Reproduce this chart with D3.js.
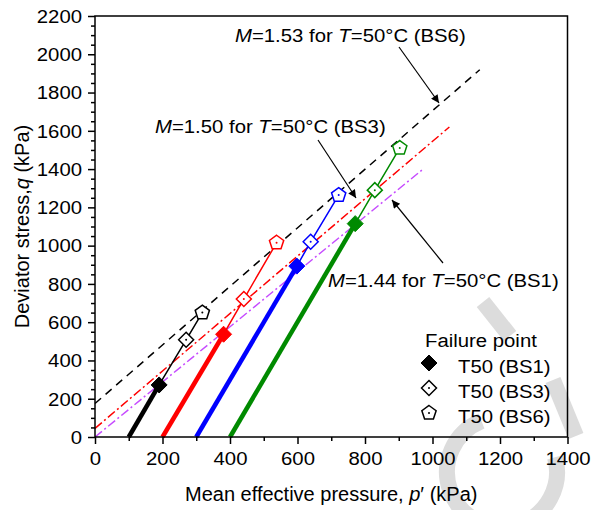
<!DOCTYPE html>
<html>
<head>
<meta charset="utf-8">
<script src="https://cdn.jsdelivr.net/npm/d3@7"></script>
<style>
  html, body { margin: 0; padding: 0; background: #fff; }
  svg { display: block; font-family: "Liberation Sans", Arial, sans-serif; }
</style>
</head>
<body>
<svg id="chart" width="596" height="510"></svg>
<script>
// Stress paths of four specimens (T = 50 °C), start of shearing p'0 (kPa)
const specimenColors = ["#000000", "#ff0000", "#0000ff", "#008a00"];
const startP = [100, 200, 300, 400];
// Failure points [p', q] for each criterion
const failBS1 = [[190, 272], [381, 537], [598, 893], [771, 1115]];
const failBS3 = [[270, 508], [441, 721], [639, 1020], [829, 1290]];
const failBS6 = [[318, 650], [538, 1015], [722, 1264], [903, 1510]];

// Critical state lines q = M p' + c
const critM = [1.53, 1.50, 1.44];
const critC = [175, 45, 0];
const critEndP = [1140, 1050, 970];
const critLabels = ["BS6", "BS3", "BS1"];

const xTicks = d3.range(0, 1401, 200);
const yTicks = d3.range(0, 2201, 200);
const legendLabels = ["T50 (BS1)", "T50 (BS3)", "T50 (BS6)"];

const svg = d3.select("#chart");
const SX = 1.13; // glyph widening used for small labels

const x = d3.scaleLinear().domain([0, 1400]).range([95, 567.5]);
const y = d3.scaleLinear().domain([0, 2200]).range([437, 16]);

// --- background mark (light grey strokes) ---
const wm = svg.append("g").attr("fill", "none").attr("stroke", "#dcdcdc").attr("stroke-width", 16)
  .attr("stroke-linecap", "butt");
wm.append("path").attr("d", d3.arc()({innerRadius: 55, outerRadius: 55, startAngle: 1.3, endAngle: 5.9}))
  .attr("transform", "translate(502,472)");
wm.append("line").attr("x1", 483).attr("y1", 302).attr("x2", 510).attr("y2", 336);
wm.append("line").attr("x1", 553).attr("y1", 380).attr("x2", 576).attr("y2", 436);

// --- critical state lines ---
const critStyles = [
  {color: "#000000", dash: "8,6"},
  {color: "#ff0000", dash: "9,3,2,3"},
  {color: "#c64bff", dash: "9,3,2,3"}
];
critM.forEach((m, i) => {
  svg.append("line")
    .attr("x1", x(0)).attr("y1", y(critC[i]))
    .attr("x2", x(critEndP[i])).attr("y2", y(m * critEndP[i] + critC[i]))
    .attr("stroke", critStyles[i].color)
    .attr("stroke-width", 1.5)
    .attr("stroke-dasharray", critStyles[i].dash);
});

// --- stress paths ---
const line = d3.line().x(d => x(d[0])).y(d => y(d[1]));
startP.forEach((p0, i) => {
  svg.append("path").attr("d", line([[p0, 0], failBS1[i]]))
    .attr("fill", "none").attr("stroke", specimenColors[i]).attr("stroke-width", 4.5);
  svg.append("path").attr("d", line([failBS1[i], failBS3[i], failBS6[i]]))
    .attr("fill", "none").attr("stroke", specimenColors[i]).attr("stroke-width", 1.5);
});

// --- markers ---
const diamondPath = r => `M0,${-r}L${r},0L0,${r}L${-r},0Z`;
function pentPath(r) {
  const pts = d3.range(5).map(k => {
    const a = -Math.PI / 2 + k * 2 * Math.PI / 5;
    return [r * Math.cos(a), r * Math.sin(a)];
  });
  return "M" + pts.map(p => p.join(",")).join("L") + "Z";
}
function drawMarker(g, kind, color) {
  if (kind === 0) {
    g.append("path").attr("d", diamondPath(8)).attr("fill", color).attr("stroke", color).attr("stroke-width", 1);
  } else {
    g.append("path").attr("d", kind === 1 ? diamondPath(7.5) : pentPath(7.5))
      .attr("fill", "#fff").attr("stroke", color).attr("stroke-width", 1.5);
    g.append("circle").attr("r", 1).attr("fill", color);
  }
}
[failBS1, failBS3, failBS6].forEach((set, k) => {
  set.forEach((d, i) => {
    const g = svg.append("g").attr("transform", `translate(${x(d[0])},${y(d[1])})`);
    drawMarker(g, k, specimenColors[i]);
  });
});

// --- axes ---
const fmt = d3.format("d");
function styleAxis(g) {
  g.select(".domain").remove();
  g.selectAll(".tick line").attr("stroke", "#000").attr("stroke-width", 1.5);
  g.selectAll(".tick text").attr("fill", "#000").attr("font-size", 18);
}
const gx = svg.append("g").attr("transform", `translate(0,${y(0)})`)
  .call(d3.axisBottom(x).tickValues(xTicks).tickFormat(fmt).tickSize(7));
styleAxis(gx);
gx.selectAll(".tick text").attr("y", 0).attr("dy", "0").attr("transform", `translate(0,28) scale(${SX},1)`);
const gxm = svg.append("g").attr("transform", `translate(0,${y(0)})`)
  .call(d3.axisBottom(x).tickValues(d3.range(100, 1400, 200)).tickSize(4).tickFormat(""));
styleAxis(gxm);

const gy = svg.append("g").attr("transform", `translate(${x(0)},0)`)
  .call(d3.axisLeft(y).tickValues(yTicks).tickFormat(fmt).tickSize(7));
styleAxis(gy);
gy.selectAll(".tick text").attr("x", -13 / SX).attr("dy", "0.35em").attr("transform", `scale(${SX},1)`);
const gym = svg.append("g").attr("transform", `translate(${x(0)},0)`)
  .call(d3.axisLeft(y).tickValues(d3.range(0, 2201, 50).filter(v => v % 200 !== 0)).tickSize(4).tickFormat(""));
styleAxis(gym);

// frame
svg.append("rect")
  .attr("x", x(0)).attr("y", y(2200))
  .attr("width", x(1400) - x(0)).attr("height", y(0) - y(2200))
  .attr("fill", "none").attr("stroke", "#000").attr("stroke-width", 1.5);

// axis titles
const xt = svg.append("text").attr("x", (x(0) + x(1400)) / 2).attr("y", 501)
  .attr("text-anchor", "middle").attr("font-size", 20);
xt.append("tspan").text("Mean effective pressure, ");
xt.append("tspan").attr("font-style", "italic").text("p");
xt.append("tspan").text("\u2032 (kPa)");

const yt = svg.append("text").attr("transform", `translate(28.5,${(y(0) + y(2200)) / 2}) rotate(-90)`)
  .attr("text-anchor", "middle").attr("font-size", 20);
yt.append("tspan").text("Deviator stress,");
yt.append("tspan").attr("font-style", "italic").text("q");
yt.append("tspan").text(" (kPa)");

// --- annotations ---
const defs = svg.append("defs");
defs.append("marker").attr("id", "arrowHead")
  .attr("viewBox", "0 0 10 10").attr("refX", 10).attr("refY", 5)
  .attr("markerWidth", 10).attr("markerHeight", 8).attr("markerUnits", "userSpaceOnUse")
  .attr("orient", "auto")
  .append("path").attr("d", "M0,0L10,5L0,10Z").attr("fill", "#000");

function label(tx, ty, m, tag) {
  const t = svg.append("text").attr("transform", `translate(${tx},${ty}) scale(${SX},1)`)
    .attr("font-size", 18).attr("fill", "#000");
  t.append("tspan").attr("font-style", "italic").text("M");
  t.append("tspan").text("=" + m.toFixed(2) + " for ");
  t.append("tspan").attr("font-style", "italic").text("T");
  t.append("tspan").text("=50\u00b0C (" + tag + ")");
}
function arrow(x1, y1, x2, y2) {
  svg.append("line").attr("x1", x1).attr("y1", y1).attr("x2", x2).attr("y2", y2)
    .attr("stroke", "#000").attr("stroke-width", 1.2).attr("marker-end", "url(#arrowHead)");
}
label(235, 42, critM[0], critLabels[0]);
arrow(399, 47, 439, 103);
label(155, 133, critM[1], critLabels[1]);
arrow(318, 140, 356, 198);
label(328, 287, critM[2], critLabels[2]);
arrow(443, 263, 392, 200);

// --- legend ---
svg.append("text").attr("transform", `translate(425,347) scale(${SX},1)`)
  .attr("font-size", 18).text("Failure point");
legendLabels.forEach((lab, k) => {
  const cy = 363 + k * 25;
  const g = svg.append("g").attr("transform", `translate(429,${cy})`);
  drawMarker(g, k, "#000");
  svg.append("text").attr("transform", `translate(458,${cy + 9.5}) scale(${SX},1)`)
    .attr("font-size", 18).text(lab);
});
</script>
</body>
</html>
